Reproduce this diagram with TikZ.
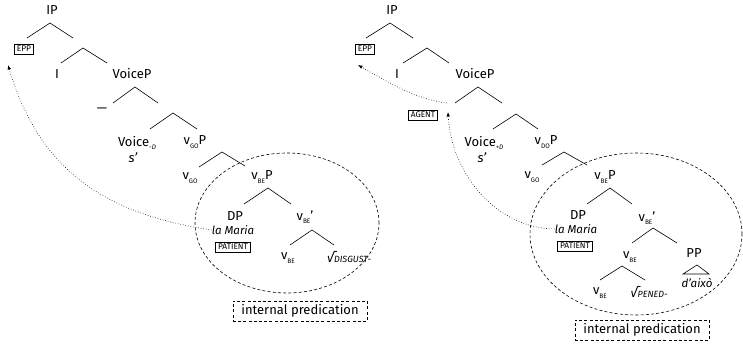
\documentclass[tikz,border=0pt]{standalone}
\usepackage{fontspec}
\setmainfont{Fira Sans}
\usetikzlibrary{arrows.meta}
\newcommand\sbs[1]{\raisebox{-0.55ex}{\fontsize{6.5}{7}\selectfont #1}}
\newcommand\mkbranch[4]{%
  \coordinate (#1a) at (#2); \coordinate (#1l) at (#3); \coordinate (#1r) at (#4);
  \draw[branch] (#1l) -- (#1a) -- (#1r);}
\tikzset{
  lab/.style={inner sep=0pt, anchor=center},
  itl/.style={inner sep=0pt, anchor=center, font=\fontsize{11.5}{13}\selectfont\itshape},
  tag/.style={draw, line width=0.6pt, inner xsep=2.4pt, inner ysep=2pt, font=\fontsize{8.3}{9}\selectfont},
  branch/.style={line width=0.6pt},
  mv/.style={dotted, line width=0.6pt, -{Latex[length=4.5pt,width=3.5pt]}},
  zone/.style={dashed, line width=0.6pt, dash pattern=on 3pt off 2.2pt},
  ipbox/.style={draw, dashed, line width=0.6pt, dash pattern=on 3pt off 2.2pt, minimum width=134pt, minimum height=20pt, inner sep=0pt}
}
\begin{document}
\begin{tikzpicture}[x=1pt, y=-1pt, font=\fontsize{13}{15}\selectfont]
\useasboundingbox (0,0) rectangle (743,345);
% ---------------- left tree ----------------
\node[lab] (IPL) at (52,10) {IP};
\node[tag] (EPPL) at (24,49) {EPP};
\node[lab] (IL) at (57,74) {I};
\node[lab] (VoicePL) at (132,74) {VoiceP};
\node[lab] (dashL) at (102,110) {—};
\node[lab] (VoiceL) at (137,143) {Voice\sbs{\textit{-D}}};
\node[lab] (sL) at (133,158) {\textit{s’}};
\node[lab] (vGOPL) at (195,142) {v\sbs{GO}P};
\node[lab] (vGOL) at (190,178) {v\sbs{GO}};
\node[lab] (vBEPL) at (262,177) {v\sbs{BE}P};
\node[lab] (DPL) at (235,216) {DP};
\node[itl] (MariaL) at (233,230) {la Maria};
\node[tag] (PatL) at (233,247) {PATIENT};
\node[lab] (vBEbarL) at (305,217) {v\sbs{BE}’};
\node[lab] (vBEL) at (288,258) {v\sbs{BE}};
\node[lab] (rootL) at (349,257) {\textit{√\fontsize{9}{10}\selectfont DISGUST-}};
\mkbranch{L1}{50,23}{27,38}{73,38}
\mkbranch{L2}{83,48}{61,63}{107,63}
\mkbranch{L3}{135,87}{113,103}{158,103}
\mkbranch{L4}{173,113}{150,129}{197,129}
\mkbranch{L5}{222,152}{199,167}{245,166}
\mkbranch{L6}{268,188}{244,204}{291,204}
\mkbranch{L7}{312,230}{290,245}{334,245}
\draw[zone] (287,223) ellipse [x radius=92pt, y radius=70pt];
\node[ipbox] (ipL) at (300,311) {internal predication};
\coordinate (tipL) at (8,65);
\draw[mv] (MariaL.west) .. controls (98,213) and (38,165) .. (tipL);
% ---------------- right tree ----------------
\node[lab] (IPR) at (392,10) {IP};
\node[tag] (EPPR) at (365,49) {EPP};
\node[lab] (IR) at (397,74) {I};
\node[lab] (VoicePR) at (475,74) {VoiceP};
\node[tag] (AgR) at (423,115) {AGENT};
\node[lab] (VoiceR) at (484,143) {Voice\sbs{\textit{+D}}};
\node[lab] (sR) at (482,158) {\textit{s’}};
\node[lab] (vDOPR) at (546,142) {v\sbs{DO}P};
\node[lab] (vGOR) at (532,177) {v\sbs{GO}};
\node[lab] (vBEPR) at (605,177) {v\sbs{BE}P};
\node[lab] (DPR) at (578,215) {DP};
\node[itl] (MariaR) at (576,229) {la Maria};
\node[tag] (PatR) at (575,246) {PATIENT};
\node[lab] (vBEbarR) at (647,218) {v\sbs{BE}’};
\node[lab] (vBEmR) at (630,257) {v\sbs{BE}};
\node[lab] (PPR) at (694,253) {PP};
\node[itl] (daixoR) at (697,283) {d’això};
\node[lab] (vBEbR) at (600,293) {v\sbs{BE}};
\node[lab] (rootR) at (649,292) {\textit{√\fontsize{9}{10}\selectfont PENED-}};
\mkbranch{R1}{390,23}{366,38}{413,38}
\mkbranch{R2}{427,48}{403,63}{449,63}
\mkbranch{R3}{478,87}{455,103}{502,103}
\mkbranch{R4}{516,114}{493,129}{538,129}
\mkbranch{R5}{564,152}{542,165}{587,165}
\mkbranch{R6}{610,188}{587,204}{632,204}
\mkbranch{R7}{653,228}{632,243}{677,243}
\mkbranch{R8}{622,266}{600,280}{645,280}
\coordinate (triA) at (697,265);
\coordinate (triL) at (683,274);
\coordinate (triR) at (709,274);
\draw[branch] (triA) -- (triL) -- (triR) -- cycle;
\draw[zone] (636,234) ellipse [x radius=106pt, y radius=81pt];
\node[ipbox] (ipR) at (642,330) {internal predication};
\coordinate (specR) at (447,103);
\coordinate (tipR) at (358,65);
\coordinate (tipAg) at (448,112);
\draw[mv] (specR) .. controls (417,100) and (384,80) .. (tipR);
\draw[mv] (MariaR.west) .. controls (495,228) and (451,172) .. (tipAg);
\end{tikzpicture}
\end{document}
